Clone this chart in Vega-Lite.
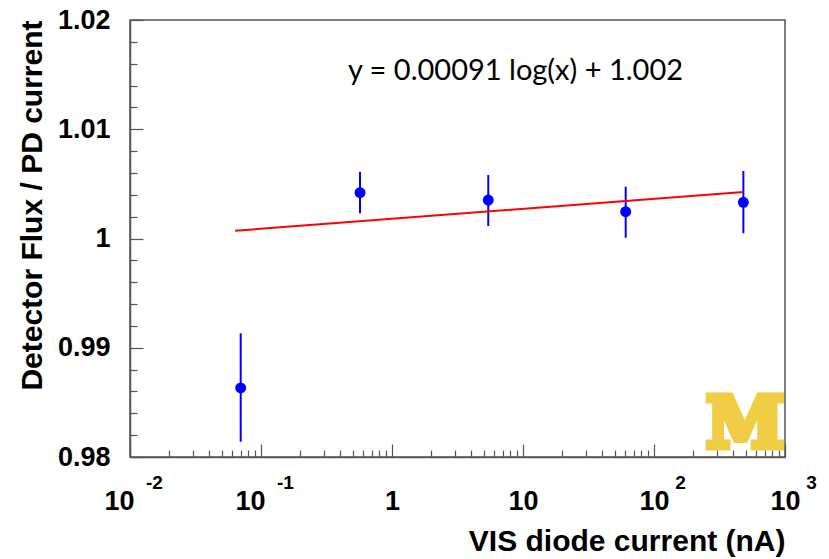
{
  "$schema": "https://vega.github.io/schema/vega-lite/v6.json",
  "width": 655,
  "height": 437,
  "autosize": {"type": "none"},
  "padding": {"left": 130, "top": 20, "right": 44, "bottom": 102},
  "background": "white",
  "config": {
    "view": {"stroke": "#555555", "strokeWidth": 1.5},
    "axis": {
      "labelFont": "Liberation Sans",
      "labelFontWeight": "bold",
      "labelFontSize": 27,
      "labelColor": "black",
      "titleFont": "Liberation Sans",
      "titleFontWeight": "bold",
      "titleFontSize": 30,
      "titleColor": "black",
      "domainColor": "#555555",
      "domainWidth": 1.5,
      "tickColor": "#555555",
      "tickWidth": 1.2,
      "grid": false,
      "labelFlush": false,
      "labelOverlap": false,
      "zindex": 1
    }
  },
  "datasets": {
    "points": [
      {"current": 0.070, "ratio": 0.98632, "lo": 0.98140, "hi": 0.99132},
      {"current": 0.570, "ratio": 1.00419, "lo": 1.00231, "hi": 1.00611},
      {"current": 5.43, "ratio": 1.00352, "lo": 1.00114, "hi": 1.00581},
      {"current": 60.8, "ratio": 1.00245, "lo": 1.00007, "hi": 1.00474},
      {"current": 481, "ratio": 1.00331, "lo": 1.00048, "hi": 1.00618}
    ],
    "fit": [
      {"current": 0.0634, "ratio": 1.00071},
      {"current": 481, "ratio": 1.00426}
    ],
    "equation": [
      {"current": 0.461, "ratio": 1.0145, "label": "y = 0.00091 log(x) + 1.002"}
    ],
    "logo": [
      {"current": 495, "ratio": 0.98096, "label": "M"}
    ]
  },
  "layer": [
    {
      "data": {"name": "logo"},
      "mark": {"type": "text", "font": "DejaVu Serif", "fontWeight": "bold", "fontSize": 70, "color": "#F1CD45", "stroke": "#F1CD45", "strokeWidth": 7, "strokeJoin": "miter", "align": "center", "baseline": "alphabetic"},
      "encoding": {
        "x": {"field": "current", "type": "quantitative", "scale": {"type": "log", "domain": [0.01, 1000]},
          "axis": {"orient": "bottom", "values": [0.01, 0.1, 1, 10, 100, 1000], "tickSize": -13, "labelPadding": 44,
            "labelOffset": {"condition": {"test": "datum.value < 0.5", "value": -11}, "value": 0},
            "labelExpr": "datum.value < 0.5 ? '10' : datum.value < 5 ? '1' : '10'",
            "title": "VIS diode current (nA)", "titleAnchor": "end", "titlePadding": 12}},
        "y": {"field": "ratio", "type": "quantitative", "scale": {"domain": [0.98, 1.02], "nice": false, "zero": false},
          "axis": {"orient": "left", "values": [0.98, 0.99, 1, 1.01, 1.02], "tickSize": -13, "labelPadding": 33,
            "labelExpr": "datum.value == 1 ? '1' : format(datum.value, '.2f')",
            "title": "Detector Flux / PD current", "titleAnchor": "end", "titlePadding": 10}},
        "text": {"field": "label"}
      }
    },
    {
      "data": {"name": "points"},
      "mark": {"type": "rule", "color": "#0000FF", "strokeWidth": 2},
      "encoding": {
        "x": {"field": "current", "type": "quantitative", "scale": {"type": "log", "domain": [0.01, 1000]},
          "axis": {"orient": "bottom", "values": [0.02,0.03,0.04,0.05,0.06,0.07,0.08,0.09,0.2,0.3,0.4,0.5,0.6,0.7,0.8,0.9,2,3,4,5,6,7,8,9,20,30,40,50,60,70,80,90,200,300,400,500,600,700,800,900],
            "tickSize": -7, "labels": false, "domain": false, "title": null}},
        "y": {"field": "lo", "type": "quantitative", "scale": {"domain": [0.98, 1.02], "nice": false, "zero": false},
          "axis": {"orient": "left", "values": [0.982,0.984,0.986,0.988,0.992,0.994,0.996,0.998,1.002,1.004,1.006,1.008,1.012,1.014,1.016,1.018],
            "tickSize": -7, "labels": false, "domain": false, "title": null}},
        "y2": {"field": "hi"}
      }
    },
    {
      "data": {"name": "points"},
      "mark": {"type": "circle", "color": "#0000FF", "opacity": 1, "size": 120},
      "encoding": {
        "x": {"field": "current", "type": "quantitative", "scale": {"type": "log", "domain": [0.01, 1000]},
          "axis": {"orient": "bottom", "values": [0.01, 0.1, 100, 1000], "ticks": false, "domain": false, "title": null,
            "labelFontSize": 19, "labelPadding": 16,
            "labelOffset": {"condition": {"test": "datum.value < 0.5", "value": 24}, "value": 26},
            "labelExpr": "datum.value < 0.05 ? '-2' : datum.value < 0.5 ? '-1' : datum.value < 500 ? '2' : '3'"}},
        "y": {"field": "ratio", "type": "quantitative", "scale": {"domain": [0.98, 1.02], "nice": false, "zero": false}, "axis": null}
      }
    },
    {
      "data": {"name": "fit"},
      "mark": {"type": "line", "color": "#FF0000", "strokeWidth": 2},
      "encoding": {
        "x": {"field": "current", "type": "quantitative", "scale": {"type": "log", "domain": [0.01, 1000]}, "axis": null},
        "y": {"field": "ratio", "type": "quantitative", "scale": {"domain": [0.98, 1.02], "nice": false, "zero": false}, "axis": null}
      }
    },
    {
      "data": {"name": "equation"},
      "mark": {"type": "text", "font": "Lato", "fontSize": 29, "color": "black", "align": "left", "baseline": "alphabetic"},
      "encoding": {
        "x": {"field": "current", "type": "quantitative", "scale": {"type": "log", "domain": [0.01, 1000]}, "axis": null},
        "y": {"field": "ratio", "type": "quantitative", "scale": {"domain": [0.98, 1.02], "nice": false, "zero": false}, "axis": null},
        "text": {"field": "label"}
      }
    }
  ],
  "resolve": {"axis": {"x": "independent", "y": "independent"}}
}
